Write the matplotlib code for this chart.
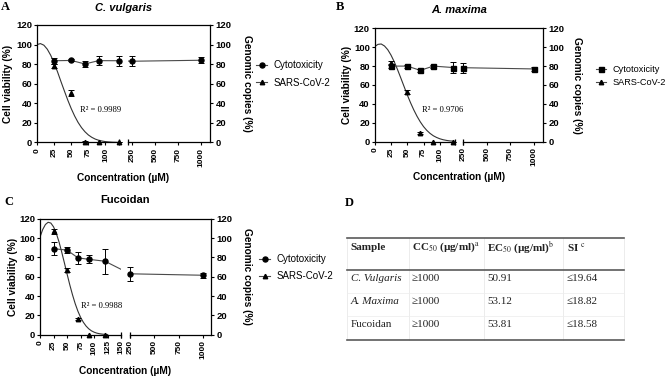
import numpy as np
import matplotlib
matplotlib.use("Agg")
import matplotlib.pyplot as plt
from matplotlib.lines import Line2D

plt.rcParams['font.family'] = ['Liberation Sans', 'DejaVu Sans']
plt.rcParams['mathtext.fontset'] = 'stix'

W, H = 668, 376

# ---------------- data ----------------
conc = [25, 50, 70, 90, 120, 250, 1000]
conc_sars = [25, 50, 70, 90, 120]

# Panel A  (C. vulgaris)
cv_cyto = [83.5, 83.8, 80.2, 83.6, 83.5, 83.0, 84.0]
cv_cyto_err = [3, 1, 3, 4.5, 5, 5, 3]
cv_sars = [78, 50.5, 1, 0, 0]
cv_sars_err = [2, 3, 0.5, 0, 0]
cv_fit_x = [0, 5, 10, 15, 20, 25, 30, 35, 40, 45, 50, 55, 60, 65, 70, 75, 80, 85, 90, 95, 100, 105, 110, 115, 120]
cv_fit_y = [100.0, 101.0, 99.4, 95.3, 89.1, 81.2, 72.1, 62.2, 52.6, 43.2, 34.6, 27.0, 20.5, 15.2,
            11.0, 7.7, 5.3, 3.5, 2.3, 1.5, 0.9, 0.55, 0.3, 0.2, 0.1]

# Panel B  (A. maxima)
am_cyto = [80, 80, 75.5, 80, 78.5, 78.3, 77]
am_cyto_err = [2, 1.5, 1.5, 1.5, 6, 5.5, 2]
am_sars = [83, 53, 9, 0, 0]
am_sars_err = [2, 2, 1, 0, 0]
am_fit_x = [0, 5, 10, 15, 20, 25, 30, 35, 40, 45, 50, 55, 60, 65, 70, 75, 80, 85, 90, 95, 100, 105, 110, 115, 120]
am_fit_y = [100.7, 103.0, 103.4, 101.3, 97.4, 91.7, 84.6, 76.4, 67.6, 58.6, 49.6, 41.3, 33.7, 26.9,
            21.0, 16.0, 12.0, 8.8, 6.3, 4.5, 3.1, 2.1, 1.4, 0.9, 0.6]

# Panel C  (Fucoidan)
fu_cyto = [89, 87.5, 79.5, 78, 76, 63, 61.5]
fu_cyto_err = [7, 3, 6, 4, 13, 7, 2.5]
fu_sars = [107, 66.5, 16.5, 0, 0]
fu_sars_err = [2.5, 2, 1, 0, 0]
fu_fit_x = [0, 5, 10, 15, 20, 25, 30, 35, 40, 45, 50, 55, 60, 65, 70, 75, 80, 85, 90, 95, 100, 105, 110, 115, 120, 125]
fu_fit_y = [101.0, 108.8, 114.0, 116.3, 115.5, 111.6, 105.0, 96.2, 85.7, 74.4, 62.8, 51.6, 41.3, 32.1,
            24.3, 17.9, 12.9, 9.0, 6.1, 4.0, 2.6, 1.6, 1.0, 0.6, 0.3, 0.2]

ticks_ab = [0, 25, 50, 75, 100, 250, 500, 750, 1000]
ticks_c = [0, 25, 50, 75, 100, 125, 150, 250, 500, 750, 1000]
yticks = [0, 20, 40, 60, 80, 100, 120]

legend_labels = ['Cytotoxicity', 'SARS-CoV-2']

table_header = ['Sample', r'CC$_{50}$ (µg/ml)$^{\mathrm{a}}$', r'EC$_{50}$ (µg/ml)$^{\mathrm{b}}$', r'SI $^{\mathrm{c}}$']
table_samples = ['C. Vulgaris', 'A. Maxima', 'Fucoidan']
table_cc50 = ['≥1000', '≥1000', '≥1000']
table_ec50 = ['50.91', '53.12', '53.81']
table_si = ['≤19.64', '≤18.82', '≤18.58']

# ---------------- helpers ----------------
fig = plt.figure(figsize=(W / 100, H / 100), dpi=100)


def fx(px):
    return px / W


def fy(py):
    return 1 - py / H


def make_break_scale(L1, R0, R1, lf=0.475, gap=0.05):
    a1 = lf / L1
    ag = gap / (R0 - L1)
    a2 = (1 - lf - gap) / (R1 - R0)

    def fwd(x):
        x = np.asarray(x, dtype=float)
        return np.where(x <= L1, x * a1,
                        np.where(x <= R0, lf + (x - L1) * ag, lf + gap + (x - R0) * a2))

    def inv(u):
        u = np.asarray(u, dtype=float)
        return np.where(u <= lf, u / a1,
                        np.where(u <= lf + gap, L1 + (u - lf) / ag, R0 + (u - lf - gap) / a2))
    return fwd, inv


LINE_C = '#4a4a4a'


def draw_panel(box, fit_x, fit_y, cyto, cyto_err, sars, sars_err, ticks, L1, R0, R1,
               mk, r2_text, r2_xy, leg_xy, leg_spacing, leg_fs, ylab_px, ylab2_px, xlab_y):
    left, top, right, bottom = box
    ax = fig.add_axes([fx(left), fy(bottom), fx(right - left), (bottom - top) / H])
    fwd, inv = make_break_scale(L1, R0, R1)
    ax.set_xscale('function', functions=(fwd, inv))
    ax.set_xlim(0, R1)
    ax.set_ylim(0, 120)

    ax.plot(fit_x, fit_y, color='#333333', lw=0.8, zorder=2)
    ax.plot(conc, cyto, color=LINE_C, lw=0.8, zorder=2)
    ax.axvspan(L1, R0, ymin=0, ymax=1, facecolor='white', edgecolor='none', zorder=2.2)

    e1 = ax.errorbar(conc, cyto, yerr=cyto_err, fmt=mk, color='black', ms=3.6,
                     elinewidth=0.7, capsize=2.0, capthick=0.7, zorder=3)
    e2 = ax.errorbar(conc_sars, sars, yerr=sars_err, fmt='^', color='black', ms=3.2,
                     elinewidth=0.7, capsize=2.0, capthick=0.7, zorder=3)
    for cont in (e1, e2):
        for ch in cont.get_children():
            ch.set_clip_on(False)

    for s in ['bottom', 'right']:
        ax.spines[s].set_visible(False)
    for s in ['left', 'top']:
        ax.spines[s].set_linewidth(0.9)

    # broken x axis
    tr = ax.get_xaxis_transform()
    ax.plot([0, L1], [0, 0], transform=tr, color='black', lw=0.9, clip_on=False, zorder=4)
    ax.plot([R0, R1], [0, 0], transform=tr, color='black', lw=0.9, clip_on=False, zorder=4)
    ax.plot([L1, R0], [0, 0], transform=tr, ls='none', marker='|', ms=5, mew=0.9,
            color='black', clip_on=False, zorder=4)

    ax.set_xticks(ticks)
    ax.set_xticklabels([str(t) for t in ticks], rotation=90, fontsize=6, fontweight='bold')
    ax.set_yticks(yticks)
    ax.set_yticklabels([str(t) for t in yticks], fontsize=6.8, fontweight='bold')
    ax.tick_params(axis='x', direction='out', length=2.5, width=0.8, pad=1.5)
    ax.tick_params(axis='y', direction='out', length=2.5, width=0.8, pad=1.0)

    sec = ax.secondary_yaxis('right')
    sec.spines['right'].set_linewidth(0.9)
    sec.set_yticks(yticks)
    sec.set_yticklabels([str(t) for t in yticks], fontsize=6.8, fontweight='bold')
    sec.tick_params(axis='y', direction='out', length=2.5, width=0.8, pad=1.5)

    ymid = fy((top + bottom) / 2)
    fig.text(fx(ylab_px), ymid, 'Cell viability (%)', rotation=90, fontsize=7.3,
             fontweight='bold', ha='center', va='center')
    fig.text(fx(ylab2_px), ymid, 'Genomic copies (%)', rotation=270, fontsize=7.3,
             fontweight='bold', ha='center', va='center')
    fig.text(fx((left + right) / 2), fy(xlab_y), 'Concentration (µM)', fontsize=7.3,
             fontweight='bold', ha='center', va='center')

    ax.text(r2_xy[0], r2_xy[1], r2_text, fontsize=6.2,
            family=['Liberation Serif', 'DejaVu Serif'], ha='left', va='center', zorder=5)

    handles = [Line2D([], [], color=LINE_C, lw=0.8, marker=mk, mfc='black', mec='black', ms=3.6),
               Line2D([], [], color=LINE_C, lw=0.8, marker='^', mfc='black', mec='black', ms=3.2)]
    ax.legend(handles, legend_labels, loc='upper left',
              bbox_to_anchor=(fx(leg_xy[0]), fy(leg_xy[1])), bbox_transform=fig.transFigure,
              frameon=False, fontsize=leg_fs, handlelength=1.15, handletextpad=0.7,
              labelspacing=leg_spacing, borderpad=0, borderaxespad=0)
    return ax


# Panel A
draw_panel((37, 25, 210, 142.5), cv_fit_x, cv_fit_y, cv_cyto, cv_cyto_err, cv_sars, cv_sars_err,
           ticks_ab, 120, 200, 1100, 'o', 'R² = 0.9989', (63, 33), (256, 60.5), 0.75, 7,
           8.3, 246.7, 178.3)
# Panel B
draw_panel((374.7, 28.3, 543.3, 141.7), am_fit_x, am_fit_y, am_cyto, am_cyto_err, am_sars, am_sars_err,
           ticks_ab, 123, 248, 1100, 's', 'R² = 0.9706', (73, 33.5), (595.7, 65.2), 0.45, 6.6,
           347.3, 576.5, 176.7)
# Panel C
draw_panel((40, 218.7, 211, 334.7), fu_fit_x, fu_fit_y, fu_cyto, fu_cyto_err, fu_sars, fu_sars_err,
           ticks_c, 150, 248, 1080, 'o', 'R² = 0.9988', (75, 29.4), (259, 254.2), 0.75, 7,
           13.3, 247.5, 370.7)

# titles
fig.text(fx(123.5), fy(8.3), 'C. vulgaris', fontsize=8, fontweight='bold', style='italic',
         ha='center', va='center')
fig.text(fx(459), fy(10), 'A. maxima', fontsize=8, fontweight='bold', style='italic',
         ha='center', va='center')
fig.text(fx(125.5), fy(199.7), 'Fucoidan', fontsize=8, fontweight='bold', ha='center', va='center')

# panel letters
serif = ['Liberation Serif', 'DejaVu Serif']
for letter, (px, py) in zip('ABCD', [(5, 7.5), (339.5, 6.7), (8.8, 201.8), (349.3, 203.5)]):
    fig.text(fx(px), fy(py), letter, fontsize=9, fontweight='bold', family=serif,
             ha='center', va='center')

# ---------------- table (panel D) ----------------
tx0, tx1 = 347.3, 624
col_x = [350.7, 411.7, 487.3, 566.7]
sep_x = [347.3, 409, 484, 563.3, 624]
y_top, y_head, y_bot = 238, 269.7, 339.7
row_y = [278.7, 301.3, 324.7]
txt_c = '#222222'

for sx in sep_x:
    fig.add_artist(Line2D([fx(sx), fx(sx)], [fy(y_top), fy(y_bot)], color='#e4e4e4', lw=0.5))
for hy in [293, 316.3]:
    fig.add_artist(Line2D([fx(tx0), fx(tx1)], [fy(hy), fy(hy)], color='#ececec', lw=0.5))
for ry in [y_top, y_head, y_bot]:
    fig.add_artist(Line2D([fx(tx0), fx(tx1)], [fy(ry), fy(ry)], color='#5a5a5a', lw=1.2))

for cx, t in zip(col_x, table_header):
    fig.text(fx(cx), fy(247.5), t, fontsize=8, fontweight='bold', family=serif, color=txt_c,
             ha='left', va='center')

for i, ry in enumerate(row_y):
    sty = 'italic' if i < 2 else 'normal'
    fig.text(fx(col_x[0]), fy(ry), table_samples[i], fontsize=8, style=sty, family=serif,
             color=txt_c, ha='left', va='center')
    fig.text(fx(col_x[1]), fy(ry), table_cc50[i], fontsize=8, family=serif, color=txt_c,
             ha='left', va='center')
    fig.text(fx(col_x[2]), fy(ry), table_ec50[i], fontsize=8, family=serif, color=txt_c,
             ha='left', va='center')
    fig.text(fx(col_x[3]), fy(ry), table_si[i], fontsize=8, family=serif, color=txt_c,
             ha='left', va='center')

fig.savefig('out.png', dpi=100)
